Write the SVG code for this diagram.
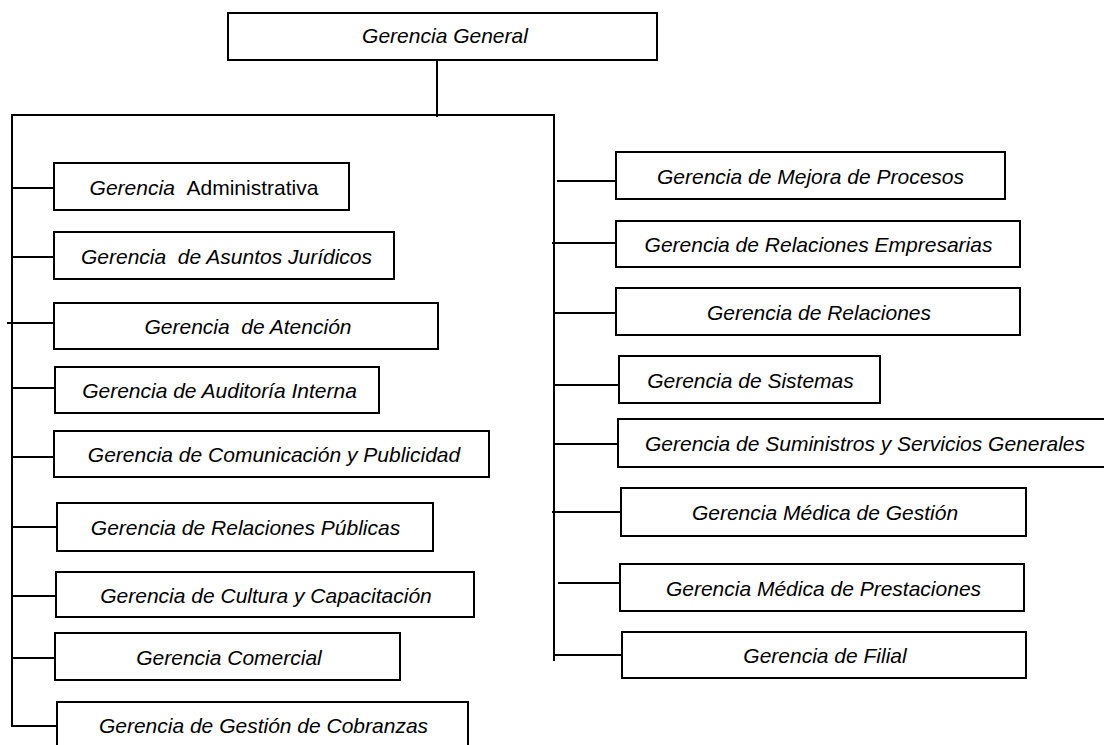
<svg xmlns="http://www.w3.org/2000/svg" width="1104" height="745" viewBox="0 0 1104 745">
<style>
.box{fill:#fff;stroke:#000;stroke-width:2}
.ln{stroke:#000;stroke-width:2;fill:none}
text{font-family:"Liberation Sans",Arial,sans-serif;font-size:21px;font-style:italic;fill:#000;text-anchor:middle}
.up{font-style:normal}
</style>
<rect width="1104" height="745" fill="#fff"/>
<g id="connectors">
<line class="ln" x1="437" y1="60" x2="437" y2="117"/>
<line class="ln" x1="11" y1="115" x2="555" y2="115"/>
<line class="ln" x1="12" y1="114" x2="12" y2="727"/>
<line class="ln" x1="554" y1="114" x2="554" y2="661"/>
<line class="ln" x1="12" y1="188" x2="61" y2="188"/>
<line class="ln" x1="12" y1="257" x2="60" y2="257"/>
<line class="ln" x1="7" y1="323" x2="54" y2="323"/>
<line class="ln" x1="12" y1="388" x2="58" y2="388"/>
<line class="ln" x1="12" y1="457" x2="57" y2="457"/>
<line class="ln" x1="12" y1="527" x2="60" y2="527"/>
<line class="ln" x1="12" y1="596" x2="58" y2="596"/>
<line class="ln" x1="12" y1="658" x2="58" y2="658"/>
<line class="ln" x1="12" y1="726" x2="57" y2="726"/>
<line class="ln" x1="557" y1="181" x2="625" y2="181"/>
<line class="ln" x1="552" y1="243" x2="619" y2="243"/>
<line class="ln" x1="553" y1="313" x2="621" y2="313"/>
<line class="ln" x1="554" y1="385" x2="622" y2="385"/>
<line class="ln" x1="555" y1="444" x2="623" y2="444"/>
<line class="ln" x1="552" y1="512" x2="621" y2="512"/>
<line class="ln" x1="558" y1="583" x2="626" y2="583"/>
<line class="ln" x1="554" y1="655" x2="622" y2="655"/>
</g>
<g id="n-general"><rect class="box" x="228" y="13" width="429" height="47"/><text x="445" y="43">Gerencia General</text></g>
<g id="n-administrativa"><rect class="box" x="54" y="163" width="295" height="47"/><text x="204" y="195" xml:space="preserve">Gerencia  <tspan class="up">Administrativa</tspan></text></g>
<g id="n-juridicos"><rect class="box" x="54" y="232" width="340" height="47"/><text x="226.5" y="264" xml:space="preserve">Gerencia  de Asuntos Jurídicos</text></g>
<g id="n-atencion"><rect class="box" x="54" y="303" width="384" height="46"/><text x="248" y="334" xml:space="preserve">Gerencia  de Atención</text></g>
<g id="n-auditoria"><rect class="box" x="55" y="367" width="324" height="46"/><text x="219.5" y="398">Gerencia de Auditoría Interna</text></g>
<g id="n-comunicacion"><rect class="box" x="54" y="431" width="435" height="46"/><text x="274" y="462">Gerencia de Comunicación y Publicidad</text></g>
<g id="n-publicas"><rect class="box" x="57" y="503" width="376" height="48"/><text x="245.5" y="535">Gerencia de Relaciones Públicas</text></g>
<g id="n-cultura"><rect class="box" x="56" y="572" width="418" height="45"/><text x="266" y="602.5">Gerencia de Cultura y Capacitación</text></g>
<g id="n-comercial"><rect class="box" x="55" y="633" width="345" height="47"/><text x="229" y="664.5">Gerencia Comercial</text></g>
<g id="n-cobranzas"><rect class="box" x="57" y="702" width="411" height="60"/><text x="263.5" y="733">Gerencia de Gestión de Cobranzas</text></g>
<g id="n-mejora"><rect class="box" x="616" y="152" width="389" height="47"/><text x="810.5" y="183.5">Gerencia de Mejora de Procesos</text></g>
<g id="n-empresarias"><rect class="box" x="616" y="221" width="404" height="46"/><text x="818.5" y="252">Gerencia de Relaciones Empresarias</text></g>
<g id="n-relaciones"><rect class="box" x="616" y="288" width="404" height="47"/><text x="819" y="319.5">Gerencia de Relaciones</text></g>
<g id="n-sistemas"><rect class="box" x="619" y="356" width="261" height="47"/><text x="750.5" y="387.5">Gerencia de Sistemas</text></g>
<g id="n-suministros"><rect class="box" x="618" y="419" width="490" height="48"/><text x="865" y="451">Gerencia de Suministros y Servicios Generales</text></g>
<g id="n-medica-gestion"><rect class="box" x="621" y="488" width="405" height="48"/><text x="825" y="520">Gerencia Médica de Gestión</text></g>
<g id="n-medica-prestaciones"><rect class="box" x="620" y="564" width="404" height="47"/><text x="823.5" y="595.5">Gerencia Médica de Prestaciones</text></g>
<g id="n-filial"><rect class="box" x="622" y="632" width="404" height="46"/><text x="825" y="663">Gerencia de Filial</text></g>
</svg>
